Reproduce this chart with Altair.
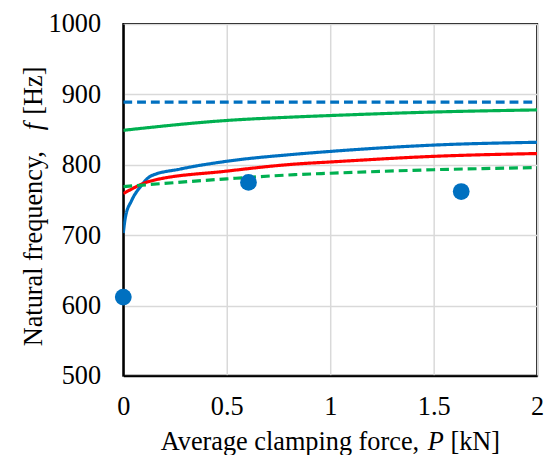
import altair as alt
import pandas as pd

# Blue solid curve
blue_x = [0, 0.01, 0.04, 0.086, 0.133, 0.276, 0.5, 0.83, 1.0, 1.5, 2.0]
blue_y = [703, 725, 749, 770, 784, 794, 805, 815, 819, 828, 832]
# Red solid curve
red_x = [0, 0.133, 0.5, 0.83, 1.0, 1.5, 2.0]
red_y = [759, 777, 791, 801, 804, 812, 816]
# Green solid curve
green_x = [0, 0.5, 0.83, 1.0, 1.5, 2.0]
green_y = [849, 863, 868, 870, 875, 878]
# Green dashed curve
greend_x = [0, 0.5, 0.83, 1.0, 1.5, 2.0]
greend_y = [769, 780, 786, 788, 793, 796]
# Blue dashed line
blued_x = [0, 2.0]
blued_y = [889, 889]
# Experimental points
pts_x = [0, 0.605, 1.633]
pts_y = [612, 775, 762]

x_ticks = [0, 0.5, 1, 1.5, 2]
y_ticks = [500, 600, 700, 800, 900, 1000]

series = ["blue", "red", "green", "greend", "blued"]
colors = ["#0070C0", "#FF0000", "#00B050", "#00B050", "#0070C0"]
dashes = [[1, 0], [1, 0], [1, 0], [9, 5], [9, 5]]

rows = []
for name, xs, ys in [("blue", blue_x, blue_y), ("red", red_x, red_y),
                     ("green", green_x, green_y), ("greend", greend_x, greend_y),
                     ("blued", blued_x, blued_y)]:
    for i, (a, b) in enumerate(zip(xs, ys)):
        rows.append({"series": name, "P": a, "f": b, "order": i})
lines_df = pd.DataFrame(rows)
pts_df = pd.DataFrame({"P": pts_x, "f": pts_y})

FONT = "Liberation Serif"
FS = 26.67

xscale = alt.Scale(domain=[0, 2], nice=False)
yscale = alt.Scale(domain=[500, 1000], nice=False)

xaxis = alt.Axis(title=None, values=x_ticks,
                 labelExpr="format(datum.value, '~g')",
                 tickSize=0, labelPadding=18, labelFlush=False,
                 gridColor="#D9D9D9", gridWidth=1.5, domainColor="black", domainWidth=2)
yaxis = alt.Axis(title=None, values=y_ticks, format="d",
                 tickSize=0, labelPadding=23, labelFlush=False,
                 gridColor="#D9D9D9", gridWidth=1.5, domainColor="black", domainWidth=2)

lines = alt.Chart(lines_df).mark_line(strokeWidth=3.2, interpolate="monotone", clip=True).encode(
    x=alt.X("P:Q", scale=xscale, axis=xaxis),
    y=alt.Y("f:Q", scale=yscale, axis=yaxis),
    color=alt.Color("series:N", scale=alt.Scale(domain=series, range=colors), legend=None),
    strokeDash=alt.StrokeDash("series:N", scale=alt.Scale(domain=series, range=dashes), legend=None),
    order="order:Q",
)

points = alt.Chart(pts_df).mark_circle(size=290, color="#0070C0", opacity=1).encode(
    x=alt.X("P:Q", scale=xscale),
    y=alt.Y("f:Q", scale=yscale),
)


def label(text, x, y, italic=False, angle=0, align="left"):
    kw = dict(font=FONT, fontSize=FS, color="black", align=align, baseline="alphabetic")
    if italic:
        kw["fontStyle"] = "italic"
    if angle:
        kw["angle"] = angle
    return alt.Chart(pd.DataFrame({"t": [text]})).mark_text(**kw).encode(
        text="t:N", x=alt.value(x), y=alt.value(y))


# axis titles with italic symbols (pieces laid out as one line of text)
xt1 = label("Average clamping force,", 38, 432)
xt2 = label("P", 309, 432, italic=True)
xt3 = label("[kN]", 332, 432)

yt1 = label("Natural frequency,", -82, 327, angle=270)
yt2 = label("f", -82, 104, italic=True, angle=270, align="center")
yt3 = label("[Hz]", -82, 92, angle=270)

chart = alt.layer(lines, points, xt1, xt2, xt3, yt1, yt2, yt3).properties(
    width=420, height=357,
    autosize=alt.AutoSizeParams(type="none"),
    padding={"left": 117, "top": 13, "right": 10, "bottom": 77},
).configure_axis(
    labelFont=FONT, labelFontSize=FS, labelColor="black",
).configure_view(
    stroke="black", strokeWidth=2,
)

chart.save("out.html", embed_options={"renderer": "svg", "actions": False})
